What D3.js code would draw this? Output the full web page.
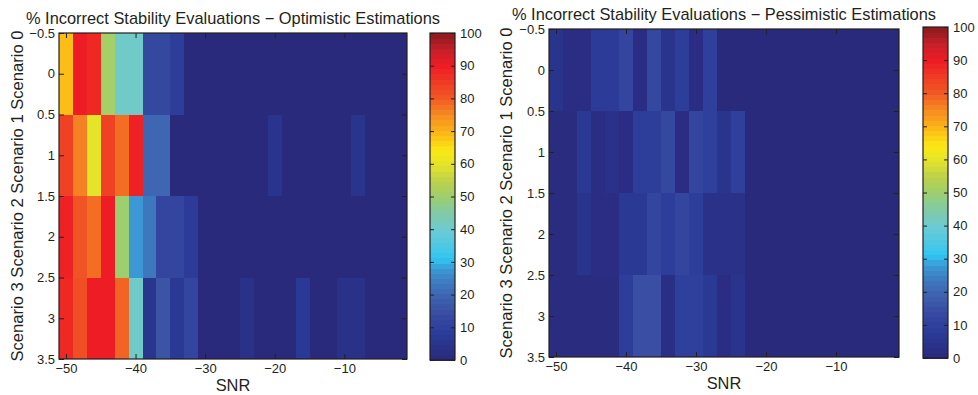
<!DOCTYPE html>
<html>
<head>
<meta charset="utf-8">
<script src="https://cdn.jsdelivr.net/npm/d3@7"></script>
<style>
  body { margin: 0; background: #fff; }
  text { font-family: "Liberation Sans", Arial, Helvetica, sans-serif; fill: #231f20; }
</style>
</head>
<body>
<div id="chart"></div>
<script>
// SNR bin centres (dB), one cell each
const snr = [-50, -48, -46, -44, -42, -40, -38, -36, -34, -32, -30, -28, -26,
  -24, -22, -20, -18, -16, -14, -12, -10, -8, -6, -4, -2];
const scenarios = [0, 1, 2, 3];

// % incorrect stability evaluations, optimistic estimations
const optimistic0 = [69, 90, 88, 51, 41, 41, 13, 13, 9, 0, 0, 0, 0, 0, 0, 0, 0, 0, 0, 0, 0, 0, 0, 0, 0];
const optimistic1 = [84, 76, 60, 84, 78, 89, 20, 20, 0, 0, 0, 0, 0, 0, 0, 5, 0, 0, 0, 0, 0, 5, 0, 0, 0];
const optimistic2 = [89, 81, 78, 90, 50, 28, 23, 12, 12, 8, 0, 0, 0, 0, 0, 0, 0, 0, 0, 0, 0, 0, 0, 0, 0];
const optimistic3 = [88, 82, 90, 90, 79, 41, 6, 16, 7, 12, 0, 0, 0, 4, 0, 0, 0, 7, 0, 0, 4, 4, 0, 0, 0];

// % incorrect stability evaluations, pessimistic estimations
const pessimistic0 = [5, 2, 2, 8, 8, 12, 2, 13, 5, 9, 2, 10, 0, 0, 0, 0, 0, 0, 0, 0, 0, 0, 0, 0, 0];
const pessimistic1 = [1, 1, 7, 2, 4, 2, 9, 9, 13, 2, 12, 10, 5, 10, 0, 0, 0, 0, 0, 0, 0, 0, 0, 0, 0];
const pessimistic2 = [1, 1, 5, 2, 2, 7, 7, 12, 9, 12, 9, 4, 4, 4, 0, 0, 0, 0, 0, 0, 0, 0, 0, 0, 0];
const pessimistic3 = [1, 1, 1, 1, 1, 9, 15, 15, 3, 10, 10, 7, 2, 5, 0, 0, 0, 0, 0, 0, 0, 0, 0, 0, 0];

const xTicks = [-50, -40, -30, -20, -10];
const yTicks = [-0.5, 0, 0.5, 1, 1.5, 2, 2.5, 3, 3.5];
const cbTicks = [0, 10, 20, 30, 40, 50, 60, 70, 80, 90, 100];

// jet-like colormap as printed
const color = d3.scaleLinear()
  .domain([0, 3, 6, 9, 12, 15, 20, 25, 28, 31, 35, 40, 45, 50, 55, 60, 64, 70, 75, 80, 90, 95, 100])
  .range(["#2a2a7c", "#2a2f86", "#293690", "#2c3e9a", "#33459e", "#3a4fa3", "#3e66b2", "#3d82c5",
    "#3b98d5", "#2fc6f1", "#4ec9e4", "#6ccbd1", "#80caa6", "#9ecf6e", "#bdd24a", "#e5e428",
    "#fae914", "#fbb416", "#f68b22", "#f15a24", "#ee1c24", "#c41f2a", "#8a1b1c"])
  .clamp(true);

const minus = (d) => (d < 0 ? "\u2212" : "") + Math.abs(d);

const svg = d3.select("#chart").append("svg")
  .attr("width", 978)
  .attr("height", 395);

const styleAxis = (g) => {
  g.select(".domain").remove();
  g.selectAll("line").attr("stroke", "#231f20");
  g.selectAll("text").style("font-family", null).attr("font-size", 13);
  g.attr("font-family", null);
};

const panel = ({ rows, title, left, right, top, bottom, titleY, xLabelY, yLabelX, cbLeft, cbRight, cbTop, cbBottom }) => {
  const x = d3.scaleLinear().domain([-51, -1]).range([left, right]);
  const y = d3.scaleLinear().domain([-0.5, 3.5]).range([top, bottom]);

  const cells = svg.append("g").attr("shape-rendering", "crispEdges");
  rows.forEach((row, i) => {
    cells.selectAll(null)
      .data(row.map((v, j) => ({ snr: snr[j], s: scenarios[i], v })))
      .join("rect")
      .attr("x", (d) => x(d.snr - 1))
      .attr("width", (d) => x(d.snr + 1) - x(d.snr - 1))
      .attr("y", (d) => y(d.s - 0.5))
      .attr("height", (d) => y(d.s + 0.5) - y(d.s - 0.5))
      .attr("fill", (d) => color(d.v));
  });

  svg.append("g")
    .attr("transform", `translate(0,${bottom})`)
    .call(d3.axisBottom(x).tickValues(xTicks).tickSizeInner(-5).tickSizeOuter(0).tickPadding(5).tickFormat(minus))
    .call(styleAxis);
  svg.append("g")
    .attr("transform", `translate(0,${top})`)
    .call(d3.axisTop(x).tickValues(xTicks).tickSizeInner(-5).tickSizeOuter(0).tickFormat(""))
    .call(styleAxis);
  svg.append("g")
    .attr("transform", `translate(${left},0)`)
    .call(d3.axisLeft(y).tickValues(yTicks).tickSizeInner(-5).tickSizeOuter(0).tickPadding(4).tickFormat(minus))
    .call(styleAxis);
  svg.append("g")
    .attr("transform", `translate(${right},0)`)
    .call(d3.axisRight(y).tickValues(yTicks).tickSizeInner(-5).tickSizeOuter(0).tickFormat(""))
    .call(styleAxis);

  svg.append("rect")
    .attr("x", left).attr("y", top)
    .attr("width", right - left).attr("height", bottom - top)
    .attr("fill", "none").attr("stroke", "#231f20").attr("stroke-width", 1.2);

  svg.append("text")
    .attr("x", (left + right) / 2).attr("y", titleY)
    .attr("text-anchor", "middle").attr("font-size", 16.4)
    .text(title);

  svg.append("text")
    .attr("x", (left + right) / 2).attr("y", xLabelY)
    .attr("text-anchor", "middle").attr("font-size", 16.4)
    .text("SNR");

  svg.append("text")
    .attr("transform", `translate(${yLabelX},${(top + bottom) / 2}) rotate(-90)`)
    .attr("text-anchor", "middle").attr("font-size", 16.6)
    .text(scenarios.slice().reverse().map((s) => `Scenario ${s}`).join(" "));

  // colorbar, 64 bands
  const cb = d3.scaleLinear().domain([0, 100]).range([cbBottom, cbTop]);
  const bands = d3.range(64);
  svg.append("g").attr("shape-rendering", "crispEdges")
    .selectAll("rect").data(bands).join("rect")
    .attr("x", cbLeft).attr("width", cbRight - cbLeft)
    .attr("y", (k) => cb((k + 1) * 100 / 64))
    .attr("height", (k) => cb(k * 100 / 64) - cb((k + 1) * 100 / 64) + 0.6)
    .attr("fill", (k) => color((k + 0.5) * 100 / 64));

  svg.append("g")
    .attr("transform", `translate(${cbRight},0)`)
    .call(d3.axisRight(cb).tickValues(cbTicks).tickSizeInner(-4).tickSizeOuter(0).tickPadding(5))
    .call(styleAxis);
  svg.append("g")
    .attr("transform", `translate(${cbLeft},0)`)
    .call(d3.axisLeft(cb).tickValues(cbTicks).tickSizeInner(-4).tickSizeOuter(0).tickFormat(""))
    .call(styleAxis);
  svg.append("rect")
    .attr("x", cbLeft).attr("y", cbTop)
    .attr("width", cbRight - cbLeft).attr("height", cbBottom - cbTop)
    .attr("fill", "none").attr("stroke", "#231f20").attr("stroke-width", 1.2);
};

panel({
  rows: [optimistic0, optimistic1, optimistic2, optimistic3],
  title: "% Incorrect Stability Evaluations \u2212 Optimistic Estimations",
  left: 59, right: 407, top: 33, bottom: 359,
  titleY: 24, xLabelY: 391, yLabelX: 23,
  cbLeft: 430, cbRight: 455, cbTop: 33, cbBottom: 360
});

panel({
  rows: [pessimistic0, pessimistic1, pessimistic2, pessimistic3],
  title: "% Incorrect Stability Evaluations \u2212 Pessimistic Estimations",
  left: 549, right: 899, top: 29, bottom: 357,
  titleY: 20, xLabelY: 389, yLabelX: 512,
  cbLeft: 923, cbRight: 948, cbTop: 27, cbBottom: 358
});
</script>
</body>
</html>
